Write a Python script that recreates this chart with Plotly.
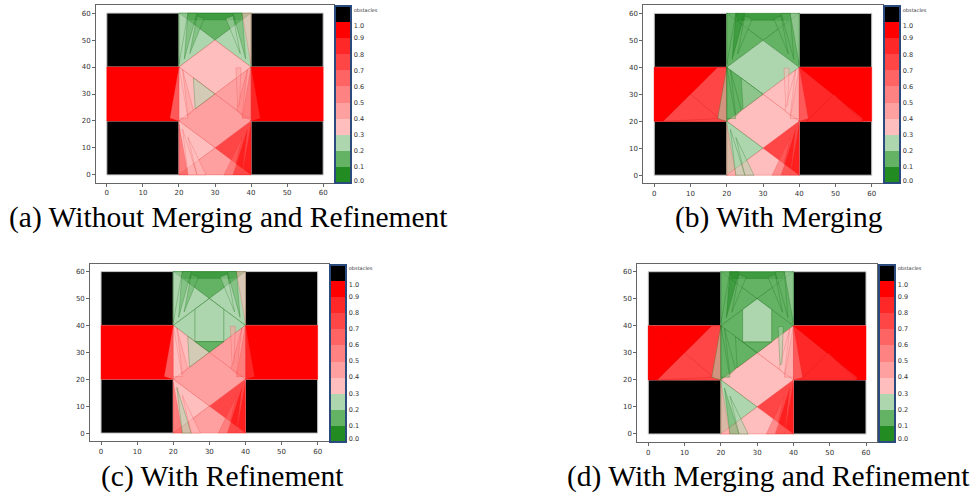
import plotly.graph_objects as go

# ---------------- data ----------------
TICKS = [0, 10, 20, 30, 40, 50, 60]
CB_TICK_POS = [0.15, 1, 2, 3, 4, 5, 6, 7, 8, 9, 9.75, 10.8]
CB_TICK_TEXT = ["0.0", "0.1", "0.2", "0.3", "0.4", "0.5", "0.6", "0.7", "0.8", "0.9", "1.0",
                '<span style="font-size:5px">obstacles</span>']
BIN_COLORS = ["#228b22", "#64b264", "#aed6ae", "#ffbebe", "#ffa0a0",
              "#ff8282", "#ff6464", "#ff4646", "#ff2828", "#ff0000"]
OBSTACLE_COLOR = "#000000"

CAPTIONS = ["(a) Without Merging and Refinement", "(b) With Merging",
            "(c) With Refinement", "(d) With Merging and Refinement"]

# obstacles (black squares)
OBST_X = [[0, 20, 20, 0], [40, 60, 60, 40], [0, 20, 20, 0], [40, 60, 60, 40]]
OBST_Y = [[0, 0, 20, 20], [0, 0, 20, 20], [40, 40, 60, 60], [40, 40, 60, 60]]

# side corridors
CORR_X = [[0, 20, 20, 0], [40, 60, 60, 40]]
CORR_Y = [[20, 20, 40, 40], [20, 20, 40, 40]]
CORR_V = 0.95

# central column lattice regions
LAT_X = [[20, 40, 30], [20, 30, 20], [40, 30, 40], [20, 30, 40, 30], [20, 30, 20],
         [40, 30, 40], [20, 30, 40, 30], [20, 30, 20], [40, 30, 40], [20, 30, 40]]
LAT_Y = [[60, 60, 50], [60, 50, 40], [60, 50, 40], [40, 50, 40, 30], [40, 30, 20],
         [40, 30, 20], [20, 30, 20, 10], [20, 10, 0], [20, 10, 0], [0, 10, 0]]
LAT_V_A = [0.15, 0.25, 0.25, 0.35, 0.35, 0.45, 0.45, 0.35, 0.75, 0.45]
LAT_V_B = [0.15, 0.15, 0.15, 0.25, 0.15, 0.35, 0.35, 0.25, 0.75, 0.35]
LAT_V_C = [0.15, 0.25, 0.25, 0.25, 0.35, 0.45, 0.45, 0.35, 0.75, 0.45]
LAT_V_D = [0.15, 0.15, 0.15, 0.15, 0.15, 0.35, 0.35, 0.25, 0.75, 0.35]

# thin slivers (shared triangulation, per-panel probabilities)
SLV_X = [[22.5, 37.5, 37, 23],          # top band
         [20, 22.5, 20], [22.5, 25, 21.5], [25, 27, 23],
         [40, 37.5, 40], [37.5, 35, 38.5], [35, 33, 37],
         [20, 17.5, 20], [20, 22.5, 20], [21, 24, 22.5],
         [40, 42.5, 40], [40, 37.5, 40], [39, 36, 37.5],
         [20, 22.5, 20], [22.5, 25, 21], [25, 27.5, 22.5],
         [40, 37.5, 40], [37.5, 35, 39], [35, 32.5, 37.5],
         [24, 30, 24.5],                 # green wedge in lower-left triangle
         [35.8, 37.2, 36.8, 36.3]]       # strip in right triangle
SLV_Y = [[60, 60, 57.5, 57.5],
         [60, 60, 41], [60, 60, 43], [59, 58, 45],
         [60, 60, 41], [60, 60, 43], [59, 58, 45],
         [40, 21, 20], [40, 21, 21], [39, 24, 22],
         [40, 21, 20], [40, 21, 21], [39, 24, 22],
         [19, 0, 0], [0, 0, 17], [0, 0, 14],
         [19, 0, 0], [0, 0, 17], [0, 0, 14],
         [36, 30, 24.5],
         [39.7, 39.7, 26, 25.5]]
SLV_V_A = [0.05, 0.25, 0.15, 0.15, 0.35, 0.15, 0.25, 0.45, 0.35, 0.45,
           0.75, 0.65, 0.55, 0.75, 0.35, 0.35, 0.95, 0.95, 0.65, 0.25, 0.45]
SLV_V_B = [0.05, 0.15, 0.05, 0.15, 0.25, 0.15, 0.15, 0.25, 0.15, 0.15,
           0.55, 0.45, 0.35, 0.45, 0.25, 0.25, 0.95, 0.95, 0.65, 0.25, 0.35]
SLV_V_C = [0.05, 0.25, 0.15, 0.15, 0.35, 0.15, 0.25, 0.45, 0.35, 0.45,
           0.75, 0.65, 0.55, 0.75, 0.25, 0.35, 0.95, 0.95, 0.65, 0.25, 0.45]
SLV_V_D = [0.05, 0.15, 0.05, 0.15, 0.25, 0.15, 0.15, 0.25, 0.15, 0.15,
           0.55, 0.45, 0.35, 0.45, 0.15, 0.25, 0.95, 0.95, 0.65, 0.15, 0.25]

# merging: corridor sub-regions (panels b, d)
MRG_X = [[0, 10, 2.5, 0], [2.5, 17.5, 20, 20], [10, 18, 2.5],
         [40, 57.5, 57.5, 40], [49.5, 42, 57.5]]
MRG_Y = [[40, 30, 20, 20], [20, 40, 40, 20], [30, 21, 20],
         [40, 21, 20, 20], [30, 20, 20]]
MRG_V = [0.95, 0.75, 0.75, 0.85, 0.85]

# refinement: sub-regions in the upper diamond (panels c, d)
REF_X = [[26, 30, 34, 34, 26], [26, 34, 30]]
REF_Y = [[46, 50, 46, 34, 34], [34, 34, 30]]
REF_V_C = [0.25, 0.15]
REF_V_D = [0.25, 0.15]

PANELS = [
    dict(lat=LAT_V_A, slv=SLV_V_A, merge=False, ref=None),
    dict(lat=LAT_V_B, slv=SLV_V_B, merge=True, ref=None),
    dict(lat=LAT_V_C, slv=SLV_V_C, merge=False, ref=REF_V_C),
    dict(lat=LAT_V_D, slv=SLV_V_D, merge=True, ref=REF_V_D),
]

# ---------------- layout geometry (pixels -> paper) ----------------
W, H = 976, 496
AX_PX = [(96, 334, 5, 183), (643.4, 882.6, 5.3, 183.3),
         (90.2, 328.5, 263.5, 441.2), (637.4, 876.9, 263.6, 442.1)]
CB_PX = [(335, 6, 177), (884.3, 6, 177), (330, 264.5, 176.5), (878.7, 264.5, 176.5)]
CAP_PX = [(228.7, 217), (779, 217), (222.5, 476), (768.9, 476)]


def hex_rgb(h):
    h = h.lstrip("#")
    return tuple(int(h[i:i + 2], 16) for i in (0, 2, 4))


def bin_color(v):
    return BIN_COLORS[min(int(v * 10), 9)]


def rgba(h, a):
    r, g, b = hex_rgb(h)
    return f"rgba({r},{g},{b},{a})"


def edge_color(v):
    if v < 0.3:
        return "rgba(20,110,20,0.55)"
    return "rgba(230,40,40,0.4)"


fig = go.Figure()


def add_poly(xs, ys, fill, line, width, ax, ay):
    fig.add_trace(go.Scatter(
        x=list(xs) + [xs[0]], y=list(ys) + [ys[0]], mode="lines", fill="toself",
        fillcolor=fill, line=dict(color=line, width=width),
        hoverinfo="skip", showlegend=False, xaxis=ax, yaxis=ay))


colorscale = []
cb_colors = BIN_COLORS + [OBSTACLE_COLOR]
for i, c in enumerate(cb_colors):
    colorscale.append([i / 11, c])
    colorscale.append([(i + 1) / 11, c])

for p, panel in enumerate(PANELS):
    ax = "x" if p == 0 else f"x{p + 1}"
    ay = "y" if p == 0 else f"y{p + 1}"
    for xs, ys in zip(OBST_X, OBST_Y):
        add_poly(xs, ys, OBSTACLE_COLOR, "#c8c8c8", 1, ax, ay)
    for xs, ys in zip(CORR_X, CORR_Y):
        add_poly(xs, ys, bin_color(CORR_V), bin_color(CORR_V), 0.5, ax, ay)
    if panel["merge"]:
        for xs, ys, v in zip(MRG_X, MRG_Y, MRG_V):
            add_poly(xs, ys, bin_color(v), "rgba(200,0,0,0.35)", 0.6, ax, ay)
    for xs, ys, v in zip(LAT_X, LAT_Y, panel["lat"]):
        add_poly(xs, ys, bin_color(v), edge_color(v), 0.7, ax, ay)
    if panel["ref"] is not None:
        for xs, ys, v in zip(REF_X, REF_Y, panel["ref"]):
            add_poly(xs, ys, bin_color(v), edge_color(v), 0.7, ax, ay)
    for xs, ys, v in zip(SLV_X, SLV_Y, panel["slv"]):
        add_poly(xs, ys, rgba(bin_color(v), 0.55), edge_color(v), 0.5, ax, ay)

    # colorbar carrier (one point hidden on an obstacle)
    cbx, cby, cbl = CB_PX[p]
    fig.add_trace(go.Scatter(
        x=[10], y=[10], mode="markers", hoverinfo="skip", showlegend=False,
        xaxis=ax, yaxis=ay,
        marker=dict(size=1, color=[10.5], cmin=0, cmax=11, colorscale=colorscale,
                    showscale=True,
                    colorbar=dict(x=cbx / W, xanchor="left", y=1 - cby / H, yanchor="top",
                                  len=cbl, lenmode="pixels", thickness=16,
                                  thicknessmode="pixels", xpad=0, ypad=0,
                                  outlinewidth=2, outlinecolor="#2b4a7e",
                                  tickvals=CB_TICK_POS, ticktext=CB_TICK_TEXT,
                                  ticks="", ticklen=0,
                                  tickfont=dict(size=6.5, color="#333", family="DejaVu Sans")))))

layout = dict(width=W, height=H, margin=dict(l=0, r=0, t=0, b=0),
              paper_bgcolor="white", plot_bgcolor="white")
for p in range(4):
    l, r, t, b = AX_PX[p]
    xk = "xaxis" if p == 0 else f"xaxis{p + 1}"
    yk = "yaxis" if p == 0 else f"yaxis{p + 1}"
    ya = "y" if p == 0 else f"y{p + 1}"
    xa = "x" if p == 0 else f"x{p + 1}"
    common = dict(range=[-3, 63], tickvals=TICKS, showgrid=False, zeroline=False,
                  showline=True, mirror=True, linecolor="#666", linewidth=1,
                  ticks="outside", ticklen=3, tickcolor="#666",
                  tickfont=dict(size=7, color="#333", family="DejaVu Sans"))
    layout[xk] = dict(domain=[l / W, r / W], anchor=ya, **common)
    layout[yk] = dict(domain=[1 - b / H, 1 - t / H], anchor=xa, **common)

annotations = []
for (cx, cy), txt in zip(CAP_PX, CAPTIONS):
    annotations.append(dict(text=txt, x=cx / W, y=1 - cy / H, xref="paper", yref="paper",
                            xanchor="center", yanchor="middle", showarrow=False,
                            font=dict(family="Liberation Serif", size=29.5, color="black")))
layout["annotations"] = annotations
fig.update_layout(**layout)
fig.write_html("out.html")
